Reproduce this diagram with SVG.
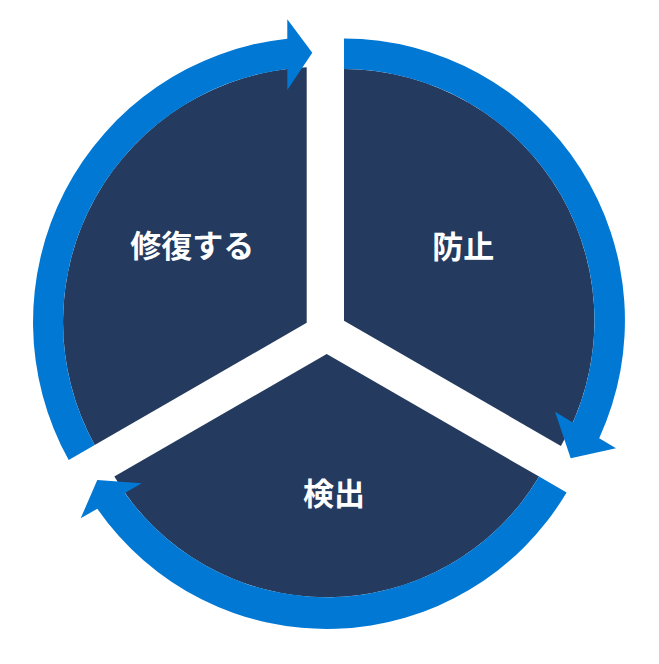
<svg xmlns="http://www.w3.org/2000/svg" width="659" height="664" viewBox="0 0 659 664">
  <style>
    .seg { fill: #243A5E; }
    .arc { fill: #0078D4; }
    .lbl { fill: #FFFFFF; font-family: "Noto Sans CJK JP", "Noto Sans CJK SC", sans-serif; font-size: 31px; font-weight: 700; text-anchor: middle; }
  </style>
  <rect width="659" height="664" fill="#FFFFFF"/>
  <g id="node-repair">
    <path class="seg" d="M306.7,322.7 L94.7,445.1 A255,255 0 0 1 306.7,67.25 Z"/>
    <text class="lbl" x="192.2" y="257">修復する</text>
  </g>
  <g id="node-prevent">
    <path class="seg" d="M344,320.7 L344,69 A251.5,251.5 0 0 1 560.9,446 Z"/>
    <text class="lbl" x="463.3" y="257.5">防止</text>
  </g>
  <g id="node-detect">
    <path class="seg" d="M326.7,354 L539.1,476.6 A247.3,247.3 0 0 1 114.3,476.6 Z"/>
    <text class="lbl" x="334" y="504.5">検出</text>
  </g>
  <g id="connectors">
    <path class="arc" d="M68.7,460.1 A285,285 0 0 1 287.3,38.7 L287.3,19.3 L312.3,52.7 L287.3,90 L287.3,68.9 A255,255 0 0 0 94.7,445.1 Z"/>
    <path class="arc" d="M344,38.5 A282,282 0 0 1 599.2,438.2 L616,448.3 L570.7,458.3 L555,411.7 L572.9,422.4 A251.5,251.5 0 0 0 344,69 Z"/>
    <path class="arc" d="M566.6,492.5 A279,279 0 0 1 97.3,508.7 L80.7,518.3 L97.3,480 L141.7,483.3 L124.9,492.9 A247.3,247.3 0 0 0 539.1,476.6 Z"/>
  </g>
</svg>
